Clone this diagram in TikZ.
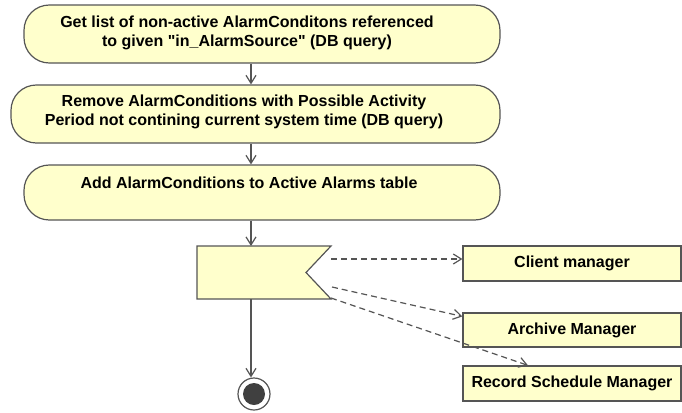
\documentclass[tikz,border=0pt]{standalone}
\usepackage{fontspec}
\setmainfont{Liberation Sans}
\usetikzlibrary{arrows.meta}
\definecolor{boxfill}{HTML}{FFFFCC}
\definecolor{edge}{HTML}{555555}
\definecolor{dot}{HTML}{404040}
\begin{document}
\begin{tikzpicture}[x=0.75pt,y=-0.75pt,
  font=\bfseries\fontsize{12pt}{13.75pt}\selectfont,
  actbox/.style={draw=edge,fill=boxfill,line width=0.9pt,rounded corners=19pt,inner sep=0pt},
  txt/.style={align=center,inner sep=0pt},
  mgrbox/.style={draw=edge,fill=boxfill,line width=0.9pt,align=center,inner sep=0pt,minimum width=163.5pt},
  arr/.style={draw=edge,line width=0.9pt,-{Straight Barb[length=6pt,width=7.5pt]}},
  dasharr/.style={arr,dash pattern=on 4.5pt off 3pt}]
\useasboundingbox (0,0) rectangle (682,412);
\coordinate (sp) at (251,0);
\node[actbox,minimum width=357pt,minimum height=43.5pt] (a1) at (262,34) {};
\node[txt] (t1) at (247,33)
  {Get list of non-active AlarmConditons referenced\\to given \textquotedbl in\_AlarmSource\textquotedbl\ (DB query)};
\node[actbox,minimum width=366.75pt,minimum height=43.5pt] (a2) at (255.5,114) {};
\node[txt] (t2) at (244,112)
  {Remove AlarmConditions with Possible Activity\\Period not contining current system time (DB query)};
\node[actbox,minimum width=357pt,minimum height=41.25pt] (a3) at (262,192.5) {};
\node[txt] (t3) at (249,183) {Add AlarmConditions to Active Alarms table};
% send signal flag
\coordinate (f1) at (197,246);
\coordinate (f2) at (331,246);
\coordinate (fn) at (306,272.5);
\coordinate (f3) at (331,299);
\coordinate (f4) at (197,299);
\draw[draw=edge,fill=boxfill,line width=0.9pt,line join=miter] (f1) -- (f2) -- (fn) -- (f3) -- (f4) -- cycle;
\coordinate (o1) at (331,259);
\coordinate (o2) at (332,287);
\coordinate (o3) at (331,298);
% manager boxes
\node[mgrbox,minimum height=26.25pt] (cm) at (572,263.5) {\raisebox{2pt}{Client manager}};
\node[mgrbox,minimum height=25.5pt] (am) at (572,330) {\raisebox{2pt}{Archive Manager}};
\node[mgrbox,minimum height=26.25pt] (rm) at (572,383.5) {\raisebox{2pt}{Record Schedule Manager}};
% final node
\node[circle,draw=edge,line width=0.9pt,fill=white,minimum size=24pt,inner sep=0pt] (fin) at (254,394) {};
\node[circle,fill=dot,minimum size=16.5pt,inner sep=0pt] (findot) at (fin.center) {};
% flows
\draw[arr] (a1.south -| sp) -- (a2.north -| sp);
\draw[arr] (a2.south -| sp) -- (a3.north -| sp);
\draw[arr] (a3.south -| sp) -- (f1 -| sp);
\draw[arr] (f4 -| sp) -- (fin.north -| sp);
\draw[dasharr] (o1) -- (o1 -| cm.west);
\draw[dasharr] (o2) -- ([yshift=-3pt]am.north west);
\draw[dasharr] (o3) -- (rm.north -| 528,0);
\end{tikzpicture}
\end{document}
